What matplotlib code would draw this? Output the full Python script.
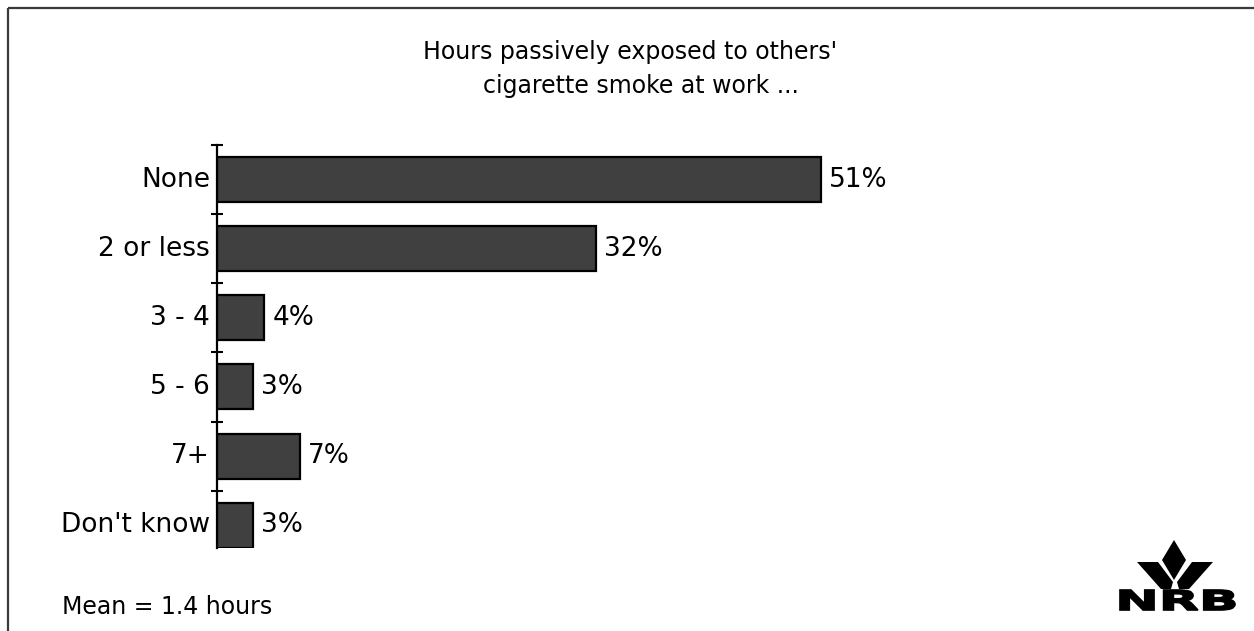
import matplotlib
matplotlib.use("Agg")
import matplotlib.pyplot as plt
from matplotlib.patches import Polygon, PathPatch
from matplotlib.textpath import TextPath
from matplotlib.font_manager import FontProperties
from matplotlib.transforms import Affine2D

plt.rcParams["font.family"] = ["DejaVu Sans"]

categories = ["None", "2 or less", "3 - 4", "5 - 6", "7+", "Don't know"]
percent = [51, 32, 4, 3, 7, 3]
title_lines = ["Hours passively exposed to others'", "cigarette smoke at work ..."]
mean_note = "Mean = 1.4 hours"

W, H = 1254, 631
fig = plt.figure(figsize=(W / 100, H / 100), dpi=100)

# background layer in pixel coordinates for frame, notes and logo
bg = fig.add_axes([0, 0, 1, 1], zorder=-1)
bg.set_xlim(0, W); bg.set_ylim(H, 0); bg.axis("off")
bg.plot([8, W], [8, 8], color="#3a3a3a", lw=1.6, solid_capstyle="butt")
bg.plot([8, 8], [8, H], color="#3a3a3a", lw=1.6, solid_capstyle="butt")
bg.text(630, 52, title_lines[0], ha="center", va="center", fontsize=17)
bg.text(641, 86, title_lines[1], ha="center", va="center", fontsize=17)
bg.text(62, 607, mean_note, ha="left", va="center", fontsize=17)

# NRB logo: diamond, two leaves, stretched bold lettering
bg.add_patch(Polygon([(1174, 540), (1186, 560), (1174, 580), (1162, 560)], closed=True, fc="black", ec="none"))
left_leaf = [(1137, 562), (1158, 562), (1173, 582), (1171, 589), (1161, 589)]
bg.add_patch(Polygon(left_leaf, closed=True, fc="black", ec="none"))
bg.add_patch(Polygon([(2 * 1175 - x, y) for x, y in left_leaf], closed=True, fc="black", ec="none"))
tp = TextPath((0, 0), "NRB", size=30, prop=FontProperties(family="DejaVu Sans", weight="bold"))
bb = tp.get_extents()
sx = (1235 - 1120) / bb.width
sy = (610 - 590) / bb.height
tr = Affine2D().translate(-bb.x0, -bb.y0).scale(sx, -sy).translate(1120, 610)
bg.add_patch(PathPatch(tr.transform_path(tp), fc="black", ec="black", lw=1.2))

ax = fig.add_axes([217 / W, 83 / H, 947 / W, 403 / H])
y = list(range(len(categories)))
ax.barh(y, percent, height=0.65, color="#404040", edgecolor="black", linewidth=1.6)
for yi, v in zip(y, percent):
    ax.annotate(f"{v}%", (v, yi), xytext=(6, 0), textcoords="offset points",
                ha="left", va="center", fontsize=19)
ax.set_xlim(0, 80)
ax.set_ylim(5.33, -0.5)
for s in ["top", "right", "bottom"]:
    ax.spines[s].set_visible(False)
ax.spines["left"].set_linewidth(1.6)
ax.set_xticks([])
ax.set_yticks([i - 0.5 for i in range(len(categories))])
ax.set_yticklabels([])
ax.tick_params(axis="y", direction="inout", length=8, width=1.5)
for yi, c in zip(y, categories):
    ax.text(-0.6, yi, c, ha="right", va="center", fontsize=19)

fig.savefig("out.png", dpi=100)
